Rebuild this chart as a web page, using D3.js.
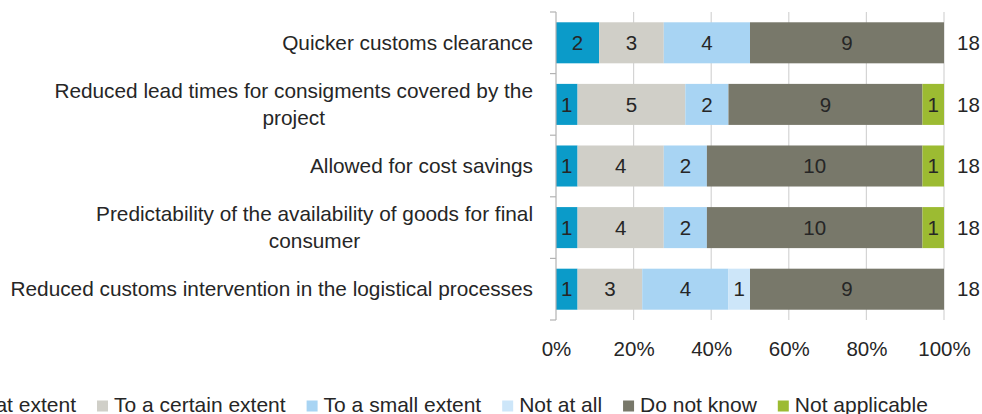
<!DOCTYPE html>
<html><head><meta charset="utf-8">
<script src="https://cdn.jsdelivr.net/npm/d3@7"></script>
<style>
body{margin:0;background:#fff;}
svg{display:block;font-family:"Liberation Sans",Arial,sans-serif;}
</style>
</head><body><svg id="c" width="982" height="414"></svg>
<script>
const categories = [
  "Quicker customs clearance",
  "Reduced lead times for consigments covered by the\nproject",
  "Allowed for cost savings",
  "Predictability of the availability of goods for final\nconsumer",
  "Reduced customs intervention in the logistical processes"
];
const seriesNames = ["To a great extent","To a certain extent","To a small extent","Not at all","Do not know","Not applicable"];
const greatExtent   = [2,1,1,1,1];
const certainExtent = [3,5,4,4,3];
const smallExtent   = [4,2,2,2,4];
const notAtAll      = [0,0,0,0,1];
const doNotKnow     = [9,9,10,10,9];
const notApplicable = [0,1,1,1,0];
const totals = [18,18,18,18,18];
const xTicks = [0,0.2,0.4,0.6,0.8,1];
const colors = ["#0b9bc9","#d0cfc8","#a8d4f3","#cde6f9","#78786a","#9cbb32"];

const seriesValues = [greatExtent,certainExtent,smallExtent,notAtAll,doNotKnow,notApplicable];
const rows = categories.map((c,i)=>{
  const r = {idx:i};
  seriesNames.forEach((s,j)=>{ r[s]=seriesValues[j][i]; });
  return r;
});

const FS = 20.5;
const FSL = 20.8;
const FSLEG = 21;
const TXT = "#262626";
const svg = d3.select("#c");
const x = d3.scaleLinear().domain([0,1]).range([556,944]);
const y = d3.scaleBand().domain(d3.range(categories.length)).range([12,320]).paddingInner(0.334).paddingOuter(0.167);
const color = d3.scaleOrdinal().domain(seriesNames).range(colors);

// gridlines
svg.append("g").selectAll("line").data(xTicks.filter(t=>t>0)).join("line")
  .attr("x1",d=>x(d)).attr("x2",d=>x(d)).attr("y1",12).attr("y2",320)
  .attr("stroke","#d4d4d4").attr("stroke-width",1.2);

// stacked bars
const stack = d3.stack().keys(seriesNames).offset(d3.stackOffsetExpand);
const layers = stack(rows);
const g = svg.append("g");
layers.forEach((layer)=>{
  const key = layer.key;
  const lg = g.append("g");
  lg.selectAll("rect").data(layer).join("rect")
    .attr("x",d=>x(d[0])).attr("width",d=>x(d[1])-x(d[0]))
    .attr("y",d=>y(d.data.idx)).attr("height",y.bandwidth())
    .attr("fill",color(key));
  lg.selectAll("text").data(layer.filter(d=>d.data[key]>0)).join("text")
    .attr("x",d=>(x(d[0])+x(d[1]))/2)
    .attr("y",d=>y(d.data.idx)+y.bandwidth()/2)
    .attr("dy","0.35em").attr("text-anchor","middle")
    .attr("font-size",FS).attr("fill",TXT)
    .text(d=>d.data[key]);
});

// y axis line & ticks
const step = y.step();
const y0 = y.range()[0];
svg.append("line").attr("x1",x(0)).attr("x2",x(0)).attr("y1",y0).attr("y2",y.range()[1])
  .attr("stroke","#b3b3b3").attr("stroke-width",1.2);
svg.append("g").selectAll("line").data(d3.range(categories.length+1)).join("line")
  .attr("x1",x(0)-6).attr("x2",x(0)).attr("y1",d=>y0+d*step).attr("y2",d=>y0+d*step)
  .attr("stroke","#b3b3b3").attr("stroke-width",1.2);

// x axis labels
const xa = svg.append("g").attr("transform","translate(0,341.5)")
  .call(d3.axisBottom(x).tickValues(xTicks).tickFormat(d3.format(".0%")).tickSize(0).tickPadding(0));
xa.select(".domain").remove();
xa.selectAll("text").attr("font-size",FS).attr("fill",TXT).attr("font-family","Liberation Sans, Arial, sans-serif");

// category labels
const labelRight = 533;
const lineH = 27;
categories.forEach((c,i)=>{
  const lines = c.split("\n");
  const cy = y(i)+y.bandwidth()/2;
  const grp = svg.append("g");
  const ts = lines.map((ln,k)=>grp.append("text")
    .attr("y",cy+(k-(lines.length-1)/2)*lineH).attr("dy","0.35em")
    .attr("font-size",FSL).attr("fill",TXT).text(ln));
  if(lines.length===1){
    ts[0].attr("x",labelRight).attr("text-anchor","end");
  } else {
    const W = d3.max(ts,t=>t.node().getComputedTextLength());
    ts.forEach(t=>t.attr("x",labelRight-W/2).attr("text-anchor","middle"));
  }
});

// totals
svg.append("g").selectAll("text").data(totals).join("text")
  .attr("x",x(1)+13).attr("y",(d,i)=>y(i)+y.bandwidth()/2).attr("dy","0.35em")
  .attr("font-size",FS).attr("fill",TXT).text(d=>d);

// legend
const sq = 11, gapT = 6, gapI = 21;
const lg = svg.append("g");
const items = seriesNames.map(s=>{
  const it = lg.append("g");
  it.append("rect").attr("width",sq).attr("height",sq).attr("y",400.5).attr("fill",color(s));
  const t = it.append("text").attr("x",sq+gapT).attr("y",405).attr("dy","0.35em")
    .attr("font-size",FSLEG).attr("fill",TXT).text(s);
  return {it, w: sq+gapT+t.node().getComputedTextLength()};
});
// position so that second item starts at x=97
let pos = 97 - (items[0].w + gapI);
items.forEach(o=>{ o.it.attr("transform",`translate(${pos},0)`); pos += o.w + gapI; });
</script>
</body></html>
